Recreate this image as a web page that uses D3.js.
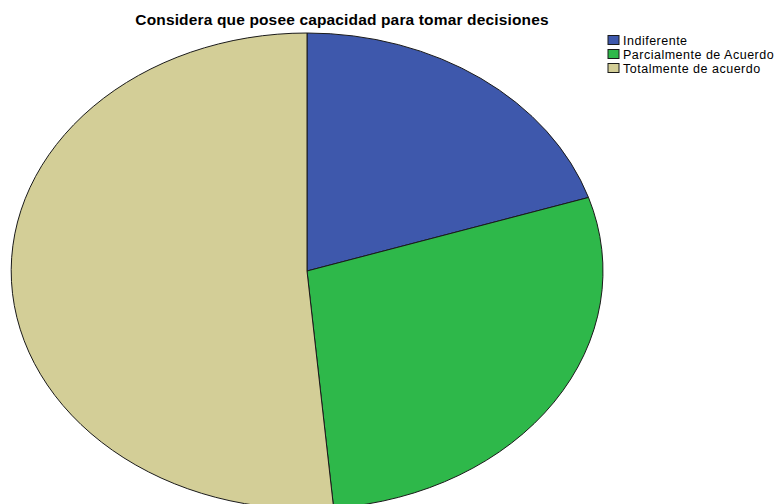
<!DOCTYPE html>
<html>
<head>
<meta charset="utf-8">
<script src="https://cdn.jsdelivr.net/npm/d3@7"></script>
<style>
html,body{margin:0;padding:0;background:#fff;}
svg{display:block;}
</style>
</head>
<body>
<svg id="chart" width="780" height="504"></svg>
<script>
const categories = ["Indiferente", "Parcialmente de Acuerdo", "Totalmente de acuerdo"];
const values = [7, 10, 18];
const colors = ["#3e58ac", "#2eb84a", "#d3ce97"];
const title = "Considera que posee capacidad para tomar decisiones";

const svg = d3.select("#chart");
const cx = 307, cy = 271, rx = 296, ry = 238;

const pie = d3.pie().sort(null).value(d => d)(values);
const arc = d3.arc().innerRadius(0).outerRadius(1);

const g = svg.append("g").attr("transform", `translate(${cx},${cy}) scale(${rx},${ry})`);
g.selectAll("path").data(pie).join("path")
  .attr("d", arc)
  .attr("fill", (d, i) => colors[i])
  .attr("stroke", "#1a1a1a")
  .attr("stroke-width", 1)
  .attr("vector-effect", "non-scaling-stroke");

svg.append("text")
  .attr("x", 342).attr("y", 25)
  .attr("text-anchor", "middle")
  .attr("font-family", "Liberation Sans, Arial, sans-serif")
  .attr("font-weight", "bold")
  .attr("font-size", 15.5)
  .attr("letter-spacing", 0.15)
  .attr("fill", "#000")
  .text(title);

const color = d3.scaleOrdinal().domain(categories).range(colors);
const ly = d3.scalePoint().domain(categories).range([40, 68]);
const leg = svg.append("g");
const items = leg.selectAll("g").data(categories).join("g")
  .attr("transform", d => `translate(608,${ly(d)})`);
items.append("rect")
  .attr("x", 0).attr("y", -4.5).attr("width", 11).attr("height", 9)
  .attr("fill", d => color(d))
  .attr("stroke", "#1a1a1a").attr("stroke-width", 1);
items.append("text")
  .attr("x", 15).attr("y", 4.5)
  .attr("font-family", "Liberation Sans, Arial, sans-serif")
  .attr("font-size", 12.5)
  .attr("letter-spacing", 0.5)
  .attr("fill", "#000")
  .text(d => d);
</script>
</body>
</html>
